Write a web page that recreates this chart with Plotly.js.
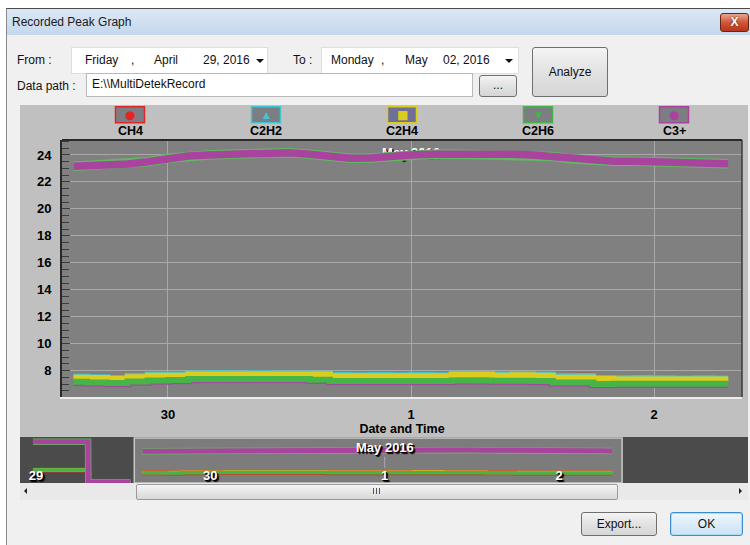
<!DOCTYPE html>
<html><head><meta charset="utf-8">
<script src="https://cdn.plot.ly/plotly-3.0.1.min.js"></script>
<style>
body{margin:0;width:750px;height:545px;overflow:hidden;background:#fff;font-family:"Liberation Sans",Arial,sans-serif;font-size:12px;color:#111;position:relative}
.a{position:absolute;white-space:nowrap}
.t{line-height:14px}
#win{left:6px;top:8px;width:744px;height:537px;background:#f0f0f0;border-left:1px solid #8a8a8a;border-top:1px solid #4a4a4a}
#bar{left:7px;top:9px;width:743px;height:26px;background:linear-gradient(#dce8f5,#c4d7ec)}
#close{left:720px;top:13px;width:27px;height:17px;border:1px solid #6b2412;border-radius:3px;background:linear-gradient(#eaa78f,#d0573a 50%,#b9341b);color:#fff;font-weight:bold;font-size:12px;text-align:center;line-height:17px;text-shadow:0 0 2px #5a1000}
.box{background:#fff;border:1px solid #dedede}
.btn{border:1px solid #707070;border-radius:3px;background:linear-gradient(#f4f4f4,#e2e2e2 50%,#d6d6d6);text-align:center}
.arr{width:0;height:0;border-left:4px solid transparent;border-right:4px solid transparent;border-top:4px solid #111}
#chart{left:20px;top:105px;width:728px;height:378px}
</style></head><body>
<div id="win" class="a"></div>
<div id="bar" class="a"></div>
<div class="a t" style="left:12px;top:15px;color:#1a1a1a">Recorded Peak Graph</div>
<div id="close" class="a">X</div>

<div class="a t" style="left:17px;top:53px">From :</div>
<div class="a box" style="left:71px;top:47px;width:195px;height:25px"></div>
<div class="a t" style="left:85px;top:53px">Friday</div>
<div class="a t" style="left:131px;top:53px">,</div>
<div class="a t" style="left:154px;top:53px">April</div>
<div class="a t" style="left:203px;top:53px">29, 2016</div>
<div class="a arr" style="left:256px;top:59px"></div>

<div class="a t" style="left:293px;top:53px">To :</div>
<div class="a box" style="left:321px;top:47px;width:196px;height:25px"></div>
<div class="a t" style="left:331px;top:53px">Monday</div>
<div class="a t" style="left:381px;top:53px">,</div>
<div class="a t" style="left:405px;top:53px">May</div>
<div class="a t" style="left:443px;top:53px">02, 2016</div>
<div class="a arr" style="left:505px;top:59px"></div>

<div class="a btn" style="left:532px;top:47px;width:74px;height:48px;line-height:48px">Analyze</div>

<div class="a t" style="left:17px;top:79px">Data path :</div>
<div class="a box" style="left:86px;top:73px;width:385px;height:22px;border-color:#b8b8b8"></div>
<div class="a t" style="left:92px;top:77px">E:\\MultiDetekRecord</div>
<div class="a btn" style="left:479px;top:75px;width:36px;height:20px;line-height:18px">...</div>

<div id="chart" class="a"></div>

<div class="a" style="left:20px;top:483px;width:728px;height:17px;background:#e9e9e9"></div>
<div class="a" style="left:24px;top:488px;width:0;height:0;border-top:3px solid transparent;border-bottom:3px solid transparent;border-right:3px solid #222"></div>
<div class="a" style="left:739px;top:488px;width:0;height:0;border-top:3px solid transparent;border-bottom:3px solid transparent;border-left:3px solid #222"></div>
<div class="a" style="left:136px;top:484px;width:480px;height:14px;border:1px solid #9a9a9a;border-radius:2px;background:linear-gradient(#f6f6f6,#e6e6e6 50%,#d8d8d8)"></div>
<div class="a" style="left:373px;top:488px;width:1px;height:6px;background:#555;box-shadow:3px 0 0 #555,6px 0 0 #555"></div>

<div class="a btn" style="left:581px;top:512px;width:74px;height:22px;line-height:22px">Export...</div>
<div class="a btn" style="left:670px;top:512px;width:71px;height:22px;line-height:22px;border-color:#3c8dce;box-shadow:inset 0 0 0 1px #a8dcf8;background:linear-gradient(#eef6fc,#dcecf8 50%,#cde3f4)">OK</div>

<script>
// ---- data ----
const seriesNames  = ['CH4', 'C2H2', 'C2H4', 'C2H6', 'C3+'];
const seriesColors = ['#e02626', '#3cc8d2', '#dccc1e', '#46b446', '#a8449e'];
const legendSymbols = ['\u25CF', '\u25B2', '\u25A0', '\u25BC', '\u25CF'];

const times = [
  '2016-04-28 23:35','2016-04-29 01:00','2016-04-29 03:00','2016-04-29 05:00','2016-04-29 07:10',
  '2016-04-29 07:12','2016-04-29 13:00','2016-04-29 13:01',
  '2016-04-29 14:40','2016-04-29 16:00','2016-04-29 18:00','2016-04-29 20:00','2016-04-29 22:00',
  '2016-04-30 00:00','2016-04-30 02:00','2016-04-30 04:00','2016-04-30 06:00','2016-04-30 08:00',
  '2016-04-30 10:00','2016-04-30 12:00','2016-04-30 14:00','2016-04-30 16:00','2016-04-30 18:00',
  '2016-04-30 20:00','2016-04-30 22:00',
  '2016-05-01 00:00','2016-05-01 02:00','2016-05-01 04:00','2016-05-01 06:00','2016-05-01 08:00',
  '2016-05-01 10:00','2016-05-01 12:00','2016-05-01 14:00','2016-05-01 16:00','2016-05-01 18:00',
  '2016-05-01 20:00','2016-05-01 22:00',
  '2016-05-02 00:00','2016-05-02 02:00','2016-05-02 04:00','2016-05-02 06:00','2016-05-02 07:20'
];
const ch4 = [9.0,9.0,9.0,9.0,9.0, 0,0,null,
  7.52,7.48,7.42,7.56,7.66, 7.66,7.76,7.76,7.76,7.77, 7.76,7.76,7.75,7.62,7.62, 7.68,7.62,
  7.62,7.62,7.73,7.72,7.66, 7.69,7.66,7.52,7.63,7.42, 7.40,7.40, 7.40,7.40,7.40,7.40,7.40];
const c2h2 = [9.1,9.1,9.1,9.1,9.1, 0,0,null,
  7.56,7.52,7.46,7.60,7.70, 7.70,7.80,7.82,7.80,7.82, 7.80,7.80,7.78,7.68,7.66, 7.68,7.66,
  7.68,7.66,7.78,7.76,7.72, 7.74,7.70,7.58,7.60,7.46, 7.44,7.46, 7.44,7.43,7.44,7.43,7.43];
const c2h4 = [9.2,9.2,9.2,9.2,9.2, 0,0,null,
  7.48,7.45,7.38,7.52,7.62, 7.62,7.72,7.72,7.72,7.72, 7.72,7.72,7.72,7.58,7.58, 7.58,7.58,
  7.58,7.58,7.70,7.70,7.62, 7.66,7.62,7.47,7.47,7.38, 7.35,7.35, 7.35,7.35,7.35,7.35,7.35];
const c2h6 = [9.3,9.3,9.3,9.3,9.3, 0,0,null,
  7.18,7.12,7.09,7.20,7.27, 7.32,7.38,7.38,7.38,7.38, 7.38,7.38,7.33,7.24,7.24, 7.24,7.24,
  7.24,7.24,7.27,7.27,7.26, 7.25,7.24,7.13,7.13,7.02, 7.03,7.03, 7.03,7.03,7.03,7.03,7.03];
const c3plus = [30.1,30.2,30.1,30.2,30.1, 0,0,null,
  23.16,23.20,23.23,23.33,23.50, 23.75,23.92,24.00,24.05,24.13, 24.17,24.17,24.05,23.90,23.75,
  23.78,23.92, 24.00,24.05,24.07,24.05,24.02, 24.06,24.00,23.88,23.70,23.56, 23.53,23.53,
  23.52,23.47,23.43,23.38,23.35];

const mainRange = ['2016-04-29 13:32', '2016-05-02 08:41'];
const navRange  = ['2016-04-28 21:48', '2016-05-03 02:01'];
const navTicks  = ['2016-04-29', '2016-04-30', '2016-05-01', '2016-05-02'];
const navTickText = ['29', '30', '1', '2'];
const yRange = [6.05, 25.11];
const navYRange = [-0.36, 33.6];
const monthAt = '2016-05-01 00:00';
const monthLabel = 'May 2016';
const xTitle = 'Date and Time';

// ---- layout helpers ----
const FONT = 'Liberation Sans, Arial, sans-serif';
const xDom = [42/728, 722/728];
const yDom = [86/378, 343/378];
const navDom = [0, 46/378];
const shadow = '1px 1px 0px #000, 2px 2px 1px #000';

const traces = [];
function add(vals, color, width, shape, xa, ya) {
  traces.push({type:'scatter', mode:'lines', x:times, y:vals, xaxis:xa, yaxis:ya,
    line:{color:color, width:width, shape:shape}, hoverinfo:'skip', connectgaps:false});
}
// main chart
add(c2h6, '#9b4f9b', 8.5, 'hv', 'x', 'y');
add(ch4, seriesColors[0], 6, 'hv', 'x', 'y');
add(c2h2, seriesColors[1], 6, 'hv', 'x', 'y');
add(c2h4, seriesColors[2], 6, 'hv', 'x', 'y');
add(c2h6, seriesColors[3], 6, 'hv', 'x', 'y');
add(c3plus, '#5fbb5f', 9.5, 'linear', 'x', 'y');
add(c3plus, seriesColors[4], 7.5, 'linear', 'x', 'y');
// empty carrier so the bottom date axis (x3) is built; draws nothing
traces.push({type:'scatter', mode:'lines', x:mainRange, y:[null, null], xaxis:'x3', yaxis:'y', hoverinfo:'skip'});
// navigator
add(c2h6, '#c83030', 5, 'hv', 'x2', 'y2');
add(ch4, seriesColors[0], 2, 'hv', 'x2', 'y2');
add(c2h2, seriesColors[1], 2, 'hv', 'x2', 'y2');
add(c2h4, seriesColors[2], 3.5, 'hv', 'x2', 'y2');
add(c2h6, seriesColors[3], 3.5, 'hv', 'x2', 'y2');
add(c3plus, '#5fbb5f', 6.5, 'linear', 'x2', 'y2');
add(c3plus, '#a8449e', 5, 'linear', 'x2', 'y2');

const shapes = [
  {type:'rect', xref:'x2 domain', yref:'y2 domain', x0:0, x1:1, y0:0, y1:1, fillcolor:'#4b4b4b', line:{width:0}, layer:'below'},
  {type:'rect', xref:'x2', yref:'y2 domain', x0:mainRange[0], x1:mainRange[1], y0:0, y1:0.98, fillcolor:'#7c7c7c', line:{color:'#c9c9c9', width:1.5}, layer:'below'},
  {type:'line', xref:'x2', yref:'y2 domain', x0:monthAt, x1:monthAt, y0:0.32, y1:0.57, line:{color:'#a8a8a8', width:1}, layer:'below'},
  {type:'line', xref:'x domain', yref:'y domain', x0:0, x1:1, y0:1, y1:1, line:{color:'#2a2a2a', width:2}},
  {type:'line', xref:'x domain', yref:'y domain', x0:1, x1:1, y0:0, y1:1, line:{color:'#3a3a3a', width:1.5}}
];
const annotations = [];
const legY = (378-9.7)/378, labY = (378-26)/378;
seriesNames.forEach((n, i) => {
  const lx = xDom[0] + (xDom[1]-xDom[0]) * (i + 0.5) / seriesNames.length;
  shapes.push({type:'rect', xref:'paper', yref:'paper', xsizemode:'pixel', ysizemode:'pixel',
    xanchor:lx, yanchor:legY, x0:-14.5, x1:14.5, y0:-8, y1:8,
    fillcolor: i === 2 ? '#6f6f98' : '#7d7d84', line:{color:seriesColors[i], width:1.5}});
  annotations.push({xref:'paper', yref:'paper', x:lx, y:legY, text:legendSymbols[i], showarrow:false,
    xanchor:'center', yanchor:'middle', font:{family:'DejaVu Sans', size: (i===1||i===3) ? 9 : 12, color:seriesColors[i]}});
  annotations.push({xref:'paper', yref:'paper', x:lx, y:labY, text:n, showarrow:false,
    xanchor:'center', yanchor:'middle', font:{family:FONT, size:12.5, color:'#000', weight:'bold'}});
});
annotations.push({xref:'x2', yref:'y2 domain', x:monthAt, y:0.78, text:monthLabel, showarrow:false,
  xanchor:'center', yanchor:'middle', font:{family:FONT, size:13, color:'#fff', weight:'bold', shadow:shadow}});

const layout = {
  width:728, height:378, margin:{l:0, r:0, t:0, b:0},
  paper_bgcolor:'#c0c0c0', plot_bgcolor:'#808080', showlegend:false,
  xaxis:{type:'date', domain:xDom, range:mainRange, side:'top', anchor:'y',
    tickvals:[monthAt], ticktext:[monthLabel], ticks:'', ticklabelposition:'outside',
    showgrid:false, zeroline:false, showline:false, layer:'below traces', ticklabelstandoff:-21,
    tickfont:{family:FONT, size:13, color:'#fff', weight:'bold', shadow:shadow}},
  xaxis3:{type:'date', overlaying:'x', anchor:'y', side:'bottom', range:mainRange,
    dtick:86400000, tick0:'2016-04-30', tickformat:'%-d', ticks:'',
    showgrid:true, gridcolor:'#a9a9a9', gridwidth:1, zeroline:false,
    showline:true, linecolor:'#ececec', linewidth:2, ticklabelstandoff:4,
    tickfont:{family:FONT, size:13, color:'#000', weight:'bold'},
    title:{text:xTitle, standoff:4, font:{family:FONT, size:12.5, color:'#000', weight:'bold'}}},
  yaxis:{domain:yDom, range:yRange, anchor:'x', dtick:2, tick0:0, ticks:'inside', ticklen:8,
    tickwidth:1, tickcolor:'#3c3c3c', showgrid:true, gridcolor:'#a9a9a9', zeroline:false,
    showline:true, linecolor:'#2a2a2a', linewidth:2, ticklabelstandoff:6,
    tickfont:{family:FONT, size:13, color:'#000', weight:'bold'},
    minor:{dtick:0.5, ticks:'inside', ticklen:7, tickwidth:1, tickcolor:'#3c3c3c', showgrid:false}},
  xaxis2:{type:'date', domain:[0,1], anchor:'y2', range:navRange, tickvals:navTicks, ticktext:navTickText,
    ticks:'', ticklabelposition:'inside', ticklabelstandoff:-3, showgrid:false, zeroline:false, showline:false,
    tickfont:{family:FONT, size:13, color:'#fff', weight:'bold', shadow:shadow}},
  yaxis2:{domain:navDom, anchor:'x2', range:navYRange, visible:false, showgrid:false, zeroline:false},
  shapes:shapes, annotations:annotations
};
Plotly.newPlot('chart', traces, layout, {staticPlot:true, displayModeBar:false});
</script>
</body></html>
